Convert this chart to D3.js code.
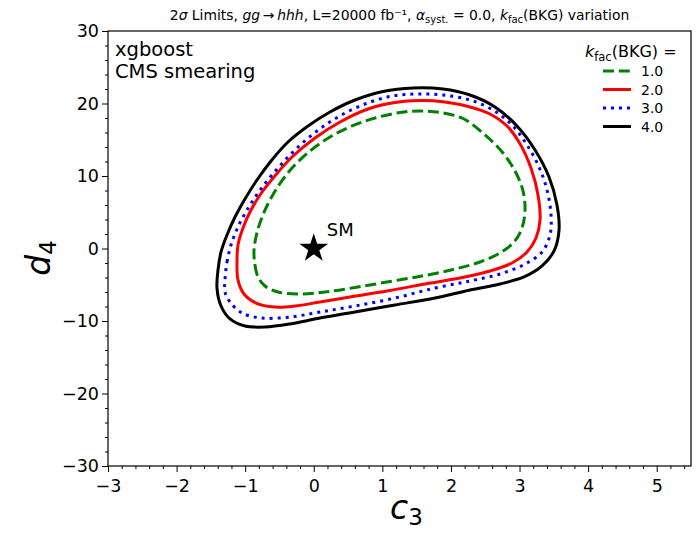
<!DOCTYPE html>
<html><head><meta charset="utf-8">
<script src="https://cdn.jsdelivr.net/npm/d3@7"></script>
<style>body{margin:0;background:#fff}svg{font-family:"DejaVu Sans",sans-serif}</style>
</head><body><svg id="c" width="698" height="533"></svg>
<script>
const xTicks = [-3,-2,-1,0,1,2,3,4,5];
const yTicks = [-30,-20,-10,0,10,20,30];
const kfacLabels = ["1.0","2.0","3.0","4.0"];
const seriesColors = ["#008000","#ff0000","#0000ff","#000000"];
const contour1 = [[-0.871,-0.21],[-0.857,-2.28],[-0.813,-3.93],[-0.711,-5.17],[-0.521,-6.0],[-0.201,-6.28],[0.164,-6.0],[0.601,-5.38],[1.112,-4.55],[1.622,-3.72],[2.059,-2.83],[2.424,-1.86],[2.715,-0.62],[2.920,0.90],[3.036,2.83],[3.080,5.31],[3.051,7.93],[2.949,10.41],[2.759,13.17],[2.497,15.66],[2.176,17.93],[1.841,18.76],[1.549,18.97],[1.257,18.76],[0.893,18.0],[0.558,16.9],[0.237,15.38],[-0.055,13.45],[-0.317,11.10],[-0.536,8.34],[-0.696,5.59],[-0.813,2.69]];
const contour2 = [[-1.119,-1.86],[-1.105,0.48],[-1.032,2.83],[-0.930,5.03],[-0.784,7.38],[-0.580,9.86],[-0.317,12.62],[0.018,15.24],[0.383,17.45],[0.791,19.24],[1.184,20.14],[1.549,20.41],[1.913,20.21],[2.278,19.52],[2.570,18.55],[2.803,17.03],[2.992,14.69],[3.167,11.10],[3.269,7.38],[3.299,3.93],[3.240,1.45],[3.109,-0.48],[2.890,-2.0],[2.570,-3.10],[2.132,-4.07],[1.622,-4.90],[1.068,-5.86],[0.528,-6.69],[0.091,-7.38],[-0.274,-7.93],[-0.565,-8.07],[-0.842,-7.52],[-1.017,-6.28],[-1.105,-4.34]];
const contour3 = [[-1.294,-4.34],[-1.265,-1.86],[-1.207,0.48],[-1.105,2.97],[-0.973,5.31],[-0.813,7.66],[-0.609,10.14],[-0.346,12.90],[-0.011,15.79],[0.353,18.14],[0.747,19.93],[1.141,21.03],[1.505,21.31],[1.884,21.17],[2.278,20.48],[2.613,19.10],[2.890,17.03],[3.109,14.28],[3.284,11.24],[3.401,8.07],[3.459,4.62],[3.444,1.86],[3.328,-0.48],[3.080,-2.14],[2.715,-3.52],[2.278,-4.48],[1.768,-5.45],[1.184,-6.83],[0.601,-7.93],[0.091,-8.76],[-0.346,-9.45],[-0.755,-9.59],[-1.046,-8.90],[-1.221,-7.38],[-1.294,-6.0]];
const contour4 = [[-1.411,-5.45],[-1.396,-2.97],[-1.352,-0.48],[-1.265,1.86],[-1.148,4.34],[-1.003,6.83],[-0.828,9.45],[-0.623,12.07],[-0.376,14.69],[-0.084,16.90],[0.237,18.83],[0.601,20.48],[1.010,21.66],[1.447,22.14],[1.884,22.0],[2.278,21.17],[2.642,19.52],[2.963,16.90],[3.226,13.59],[3.430,9.86],[3.546,6.0],[3.576,2.55],[3.503,-0.34],[3.328,-2.41],[3.065,-3.93],[2.715,-4.90],[2.278,-5.72],[1.768,-6.83],[1.184,-7.79],[0.601,-8.76],[0.091,-9.59],[-0.346,-10.41],[-0.711,-10.83],[-1.003,-10.69],[-1.221,-9.72],[-1.352,-7.93]];
const smPoint = [0,0];

const contours = [contour1, contour2, contour3, contour4];
const dashes = ["11,4.8", null, "3,5", null];

const svg = d3.select("#c");
const L=108, R=691, T=31, B=466;
const x = d3.scaleLinear().domain([-3,5.5]).range([L,R]);
const y = d3.scaleLinear().domain([-30,30]).range([B,T]);

svg.append("rect").attr("x",L).attr("y",T).attr("width",R-L).attr("height",B-T)
  .attr("fill","none").attr("stroke","#000").attr("stroke-width",1.2);

const line = d3.line().x(d=>x(d[0])).y(d=>y(d[1])).curve(d3.curveCatmullRomClosed.alpha(0.5));
contours.forEach((c,i)=>{
  svg.append("path").attr("d",line(c)).attr("fill","none")
    .attr("stroke",seriesColors[i]).attr("stroke-width",3)
    .attr("stroke-dasharray",dashes[i]);
});

const fmt = d=>d<0?"\u2212"+Math.abs(d):String(d);
const xAxis = svg.append("g").attr("transform",`translate(0,${B})`);
xAxis.call(d3.axisBottom(x).tickValues(xTicks).tickSize(6).tickPadding(8).tickFormat(fmt));
xAxis.append("g").call(d3.axisBottom(x).tickValues(d3.range(-30,56,2).map(v=>v/10).filter(v=>v%1!==0)).tickSize(3).tickFormat(""));
const yAxis = svg.append("g").attr("transform",`translate(${L},0)`);
yAxis.call(d3.axisLeft(y).tickValues(yTicks).tickSize(6).tickPadding(3).tickFormat(fmt));
yAxis.append("g").call(d3.axisLeft(y).tickValues(d3.range(-30,30.01,2).filter(v=>v%10!==0)).tickSize(3).tickFormat(""));
svg.selectAll(".domain").remove();
svg.selectAll(".tick line").attr("stroke","#000").attr("stroke-width",1);
svg.selectAll(".tick text").attr("font-size",null).style("font-size","17.5px").style("font-family","DejaVu Sans").attr("fill","#000");

const star = d3.symbol().type(d3.symbolStar).size(260);
svg.append("path").attr("d",star()).attr("transform",`translate(${x(smPoint[0])},${y(smPoint[1])})`).attr("fill","#000");
svg.append("text").attr("x",x(smPoint[0])+13).attr("y",y(smPoint[1])-13).attr("font-size",18).text("SM");

svg.append("text").attr("x",115).attr("y",56).attr("font-size",19.5).text("xgboost");
svg.append("text").attr("x",115).attr("y",78).attr("font-size",19.5).text("CMS smearing");

svg.append("text").attr("x",390).attr("y",519).attr("text-anchor","start")
  .attr("font-size",33).attr("font-style","italic").html('c<tspan font-size="23" font-style="normal" dy="6">3</tspan>');
svg.append("text").attr("transform","translate(50,258) rotate(-90)").attr("text-anchor","middle")
  .attr("font-size",33).attr("font-style","italic").html('d<tspan font-size="23" font-style="normal" dy="6">4</tspan>');

const t = svg.append("text").attr("x",(L+R)/2).attr("y",20).attr("text-anchor","middle").attr("font-size",13.9);
t.html('2<tspan font-style="italic">σ</tspan> Limits, <tspan font-style="italic">gg</tspan>\u2009→\u2009<tspan font-style="italic">hhh</tspan>, L=20000 fb\u207B\u00B9, <tspan font-style="italic">α</tspan><tspan font-size="10" dy="3">syst.</tspan><tspan dy="-3"> = 0.0, </tspan><tspan font-style="italic">k</tspan><tspan font-size="10" dy="3">fac</tspan><tspan dy="-3">(BKG) variation</tspan>');

const lg = svg.append("g");
lg.append("text").attr("x",585).attr("y",57).attr("font-size",16)
  .html('<tspan font-style="italic">k</tspan><tspan font-size="11.5" dy="4">fac</tspan><tspan dy="-4">(BKG) =</tspan>');
kfacLabels.forEach((lab,i)=>{
  const yy = 71 + i*18.5;
  lg.append("line").attr("x1",603).attr("x2",631).attr("y1",yy).attr("y2",yy)
    .attr("stroke",seriesColors[i]).attr("stroke-width",3).attr("stroke-dasharray",dashes[i]);
  lg.append("text").attr("x",641).attr("y",yy+5).attr("font-size",14).text(lab);
});
</script></body></html>
